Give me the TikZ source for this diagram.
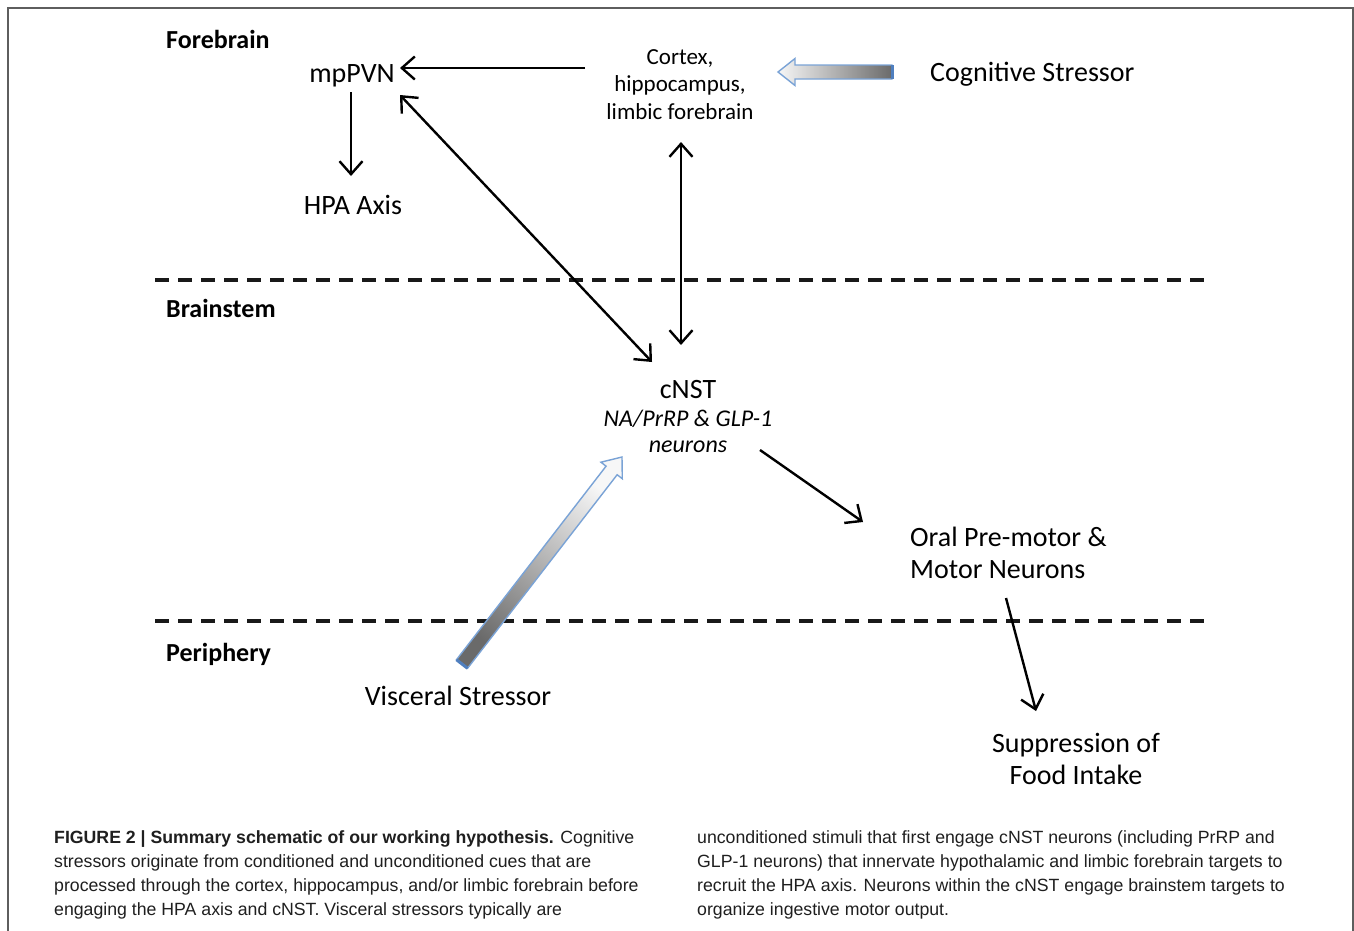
\documentclass[tikz,border=0pt]{standalone}
\usepackage{fontspec}
\setmainfont{Carlito}
\newfontfamily\capfont{Liberation Sans}
\usetikzlibrary{arrows.meta,calc}
\definecolor{arrblue}{HTML}{7AA3D6}
\definecolor{tailblue}{HTML}{4F7FBF}
\definecolor{frameg}{HTML}{5E5E5E}
\definecolor{lightg}{HTML}{F7F7F7}
\definecolor{darkg}{HTML}{6A6A6A}
\begin{document}
\begin{tikzpicture}[x=1pt,y=-1pt,
  lbl/.style={inner sep=0pt, font=\fontsize{28}{32}\selectfont},
  ctxs/.style={inner sep=0pt, font=\fontsize{23}{27.5}\selectfont},
  itl/.style={inner sep=0pt, font=\fontsize{24}{26}\selectfont\itshape},
  sec/.style={inner sep=0pt, anchor=base west, font=\fontsize{26}{30}\selectfont\bfseries},
  captext/.style={inner sep=0pt, anchor=base west, font=\capfont\fontsize{17.7}{21}\selectfont, text=black!88},
  arr/.style={line width=2.4pt, -{Straight Barb[length=13pt,width=23pt]}},
  darr/.style={line width=2.4pt, {Straight Barb[length=13pt,width=23pt]}-{Straight Barb[length=13pt,width=23pt]}},
  sepline/.style={line width=4pt, black!90, dash pattern=on 14pt off 9pt},
  blockarr/.style={draw=arrblue, line width=1.4pt, line join=miter},
  tailedge/.style={draw=tailblue, line width=3pt}
]
\useasboundingbox (0,0) rectangle (1354,930);
\fill[white] (0,0) rectangle (1354,930);
% frame
\draw[frameg, line width=1.3pt] (8,931) -- (8,8) -- (1353,8) -- (1353,931);

% section separators
\draw[sepline] (155,279.5) -- (1205,279.5);
\draw[sepline] (155,620.5) -- (1205,620.5);

% section labels
\node[sec] (fore) at (166,48) {Forebrain};
\node[sec] (brain) at (166,317) {Brainstem};
\node[sec] (peri) at (166,661) {Periphery};

% nodes (multi-line nodes: base = baseline of last line)
\node[lbl, anchor=base] (mp) at (352,82) {mpPVN};
\node[lbl, anchor=base] (hpa) at (353,214) {HPA Axis};
\node[ctxs, anchor=base, align=center] (ctx) at (680,119) {Cortex,\\hippocampus,\\limbic forebrain};
\node[lbl, anchor=base west] (cog) at (930,81) {Cognitive Stressor};
\node[lbl, anchor=base] (cnst) at (688,398) {cNST};
\node[itl, anchor=base, align=center] (cnsub) at (688,452) {NA/PrRP \& GLP-1\\neurons};
\node[lbl, anchor=base west, align=left] (oral) at (910,578) {Oral Pre-motor \&\\Motor Neurons};
\node[lbl, anchor=base, align=center] (supp) at (1076,784) {Suppression of\\Food Intake};
\node[lbl, anchor=base] (vis) at (458,705) {Visceral Stressor};

% thin connectors
\draw[arr] ([shift={(-95,-51)}]ctx.base) -- ([shift={(48,-14)}]mp.base);
\draw[arr] ([shift={(-1,10)}]mp.base) -- ([shift={(-2,-38)}]hpa.base);
\draw[darr] ([shift={(48,13)}]mp.base) -- ([shift={(-36,-36)}]cnst.base);
\draw[darr] ([shift={(1,23)}]ctx.base) -- ([shift={(-7,-53)}]cnst.base);
\draw[arr] ([shift={(72,52)}]cnst.base) -- ([shift={(-47,-56)}]oral.base west);
\draw[arr] ([shift={(96,20)}]oral.base west) -- ([shift={(-40,-73)}]supp.base);

% cognitive stressor block arrow
\coordinate (ct) at ([shift={(-38,-9)}]cog.base west);
\coordinate (cp) at ([shift={(98,-47)}]ctx.base);
\coordinate (ch) at ($(cp)!17pt!(ct)$);
\path[blockarr, left color=lightg, right color=darkg]
  ($(ct)!7pt!90:(cp)$) -- ($(ch)!7pt!90:(cp)$) -- ($(ch)!13.5pt!90:(cp)$) -- (cp)
  -- ($(ch)!13.5pt!-90:(cp)$) -- ($(ch)!7pt!-90:(cp)$) -- ($(ct)!7pt!-90:(cp)$) -- cycle;
\draw[tailedge] ($(ct)!7pt!90:(cp)$) -- ($(ct)!7pt!-90:(cp)$);

% visceral stressor block arrow
\coordinate (vt) at ([shift={(4,-41)}]vis.base);
\coordinate (vp) at ([shift={(-66,59)}]cnst.base);
\coordinate (vh) at ($(vp)!17pt!(vt)$);
\path[blockarr, top color=lightg, bottom color=darkg, shading angle=-37.7]
  ($(vt)!7pt!90:(vp)$) -- ($(vh)!7pt!90:(vp)$) -- ($(vh)!13.5pt!90:(vp)$) -- (vp)
  -- ($(vh)!13.5pt!-90:(vp)$) -- ($(vh)!7pt!-90:(vp)$) -- ($(vt)!7pt!-90:(vp)$) -- cycle;
\draw[tailedge] ($(vt)!7pt!90:(vp)$) -- ($(vt)!7pt!-90:(vp)$);

% caption
\node[captext] (l1) at (54,843) {\textbf{FIGURE 2 | Summary schematic of our working hypothesis.} Cognitive};
\node[captext] (l2) at (54,867) {stressors originate from conditioned and unconditioned cues that are};
\node[captext] (l3) at (54,891) {processed through the cortex, hippocampus, and/or limbic forebrain before};
\node[captext] (l4) at (54,915) {engaging the HPA axis and cNST. Visceral stressors typically are};
\node[captext] (r1) at (697,843) {unconditioned stimuli that first engage cNST neurons (including PrRP and};
\node[captext] (r2) at (697,867) {GLP-1 neurons) that innervate hypothalamic and limbic forebrain targets to};
\node[captext] (r3) at (697,891) {recruit the HPA axis. Neurons within the cNST engage brainstem targets to};
\node[captext] (r4) at (697,915) {organize ingestive motor output.};
\end{tikzpicture}
\end{document}
